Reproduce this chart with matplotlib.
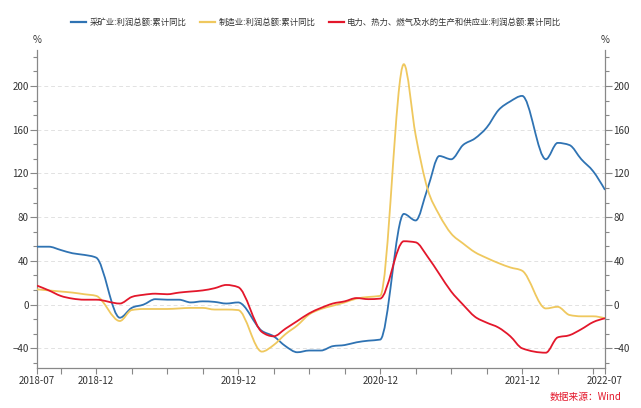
import numpy as np
import matplotlib.pyplot as plt
from matplotlib.path import Path
from matplotlib.patches import PathPatch
from matplotlib.lines import Line2D
from matplotlib.ticker import MultipleLocator, FixedLocator

plt.rcParams['font.family'] = ['Noto Sans CJK SC', 'DejaVu Sans']

# monthly cumulative data (Jan is merged into Feb, so no January points)
months = ['2018-07', '2018-08', '2018-09', '2018-10', '2018-11', '2018-12',
          '2019-02', '2019-03', '2019-04', '2019-05', '2019-06', '2019-07',
          '2019-08', '2019-09', '2019-10', '2019-11', '2019-12',
          '2020-02', '2020-03', '2020-04', '2020-05', '2020-06', '2020-07',
          '2020-08', '2020-09', '2020-10', '2020-11', '2020-12',
          '2021-02', '2021-03', '2021-04', '2021-05', '2021-06', '2021-07',
          '2021-08', '2021-09', '2021-10', '2021-11', '2021-12',
          '2022-02', '2022-03', '2022-04', '2022-05', '2022-06', '2022-07']

mining = [53, 53, 50, 47, 45.5, 43,
          -12, -3, 0, 5, 4.5, 4.5, 2, 3, 2.5, 1, 2,
          -24, -29, -38, -43.6, -42, -42, -38, -37, -34.5, -33, -32,
          83, 77, 106, 136, 133, 146, 152, 162, 178, 186, 191,
          133, 148, 146, 133, 122, 105]

manufacturing = [14, 13, 12, 11, 9.5, 8,
                 -15, -5, -4, -4, -4, -3.5, -3, -3, -4.5, -4.5, -5,
                 -43, -37, -27, -19, -9, -4, -1, 2, 5.5, 7, 8,
                 220, 155, 106, 82, 65, 56, 48, 42.7, 38, 34, 31,
                 -3.5, -2, -9.5, -10.7, -10.7, -12.5]

utilities = [17.4, 13, 8, 5.5, 4.5, 4.5,
             1, 7, 9, 10, 9.5, 11, 12, 13, 15, 18, 16,
             -25, -29, -22, -15, -8, -3, 1, 3, 6, 5, 5.5,
             58, 57, 44, 28, 12, 0, -11, -16.5, -21, -29, -40,
             -44, -30, -28, -22.5, -16, -12.5]

series_names = ['采矿业:利润总额:累计同比', '制造业:利润总额:累计同比',
                '电力、热力、燃气及水的生产和供应业:利润总额:累计同比']
colors = ['#2f73b3', '#efc85e', '#e3172b']

tick_labels = ['2018-07', '2018-12', '2019-12', '2020-12', '2021-12', '2022-07']


def month_index(s):
    y, m = s.split('-')
    return (int(y) - 2018) * 12 + int(m) - 7


def monotone_path(x, y):
    # monotone cubic (like d3 curveMonotoneX), as bezier segments
    x = np.asarray(x, float)
    y = np.asarray(y, float)
    n = len(x)
    h = np.diff(x)
    s = np.diff(y) / h
    t = np.zeros(n)
    for i in range(1, n - 1):
        p = (s[i - 1] * h[i] + s[i] * h[i - 1]) / (h[i - 1] + h[i])
        t[i] = (np.sign(s[i - 1]) + np.sign(s[i])) * min(abs(s[i - 1]), abs(s[i]), 0.5 * abs(p))
    t[0] = (3 * s[0] - t[1]) / 2
    t[-1] = (3 * s[-1] - t[-2]) / 2
    verts = [(x[0], y[0])]
    codes = [Path.MOVETO]
    for i in range(n - 1):
        dx = h[i] / 3
        verts += [(x[i] + dx, y[i] + dx * t[i]),
                  (x[i + 1] - dx, y[i + 1] - dx * t[i + 1]),
                  (x[i + 1], y[i + 1])]
        codes += [Path.CURVE4] * 3
    return Path(verts, codes)


xs = [month_index(m) for m in months]

fig = plt.figure(figsize=(6.41, 4.08), dpi=100)
ax = fig.add_axes([37 / 641, 1 - 368 / 408, 568 / 641, 318 / 408])

for vals, c in zip([mining, manufacturing, utilities], colors):
    patch = PathPatch(monotone_path(xs, vals), facecolor='none', edgecolor=c, lw=1.3, zorder=3)
    ax.add_patch(patch)

ax.set_xlim(0, 48)
ax.set_ylim(-58, 233)

# y axis on both sides
ax.yaxis.set_major_locator(MultipleLocator(40))
ax.yaxis.set_minor_locator(MultipleLocator(40 / 3))
ax.tick_params(axis='y', which='both', left=True, right=True, labelleft=True, labelright=True,
               colors='#888888', labelcolor='#333333', labelsize=7, width=0.8)
ax.tick_params(axis='y', which='major', length=5, pad=1)
ax.tick_params(axis='y', which='minor', length=3)

ax.set_xticks([month_index(t) for t in tick_labels])
ax.set_xticklabels(tick_labels)
quarters = [month_index(m) for m in months if int(m[5:]) in (3, 6, 9)] + [2]
ax.xaxis.set_minor_locator(FixedLocator(sorted(set(quarters))))
ax.tick_params(axis='x', which='both', colors='#888888', labelcolor='#333333',
               labelsize=7, length=4, width=0.8, pad=2)

ax.grid(axis='y', which='major', color='#e2e2e2', linestyle=(0, (4, 3)), lw=0.7)
ax.set_axisbelow(True)
ax.spines['top'].set_visible(False)
for sp in ['left', 'right', 'bottom']:
    ax.spines[sp].set_color('#888888')
    ax.spines[sp].set_linewidth(0.9)

fig.text(37 / 641, 1 - 40 / 408, '%', ha='center', va='center', fontsize=7, color='#333333')
fig.text(605 / 641, 1 - 40 / 408, '%', ha='center', va='center', fontsize=7, color='#333333')

handles = [Line2D([], [], color=c, lw=1.6) for c in colors]
fig.legend(handles, series_names, loc='center', bbox_to_anchor=(316 / 641, 1 - 22 / 408), ncol=3,
           frameon=False, fontsize=6.05, handlelength=1.8, handletextpad=0.4, columnspacing=1.6,
           labelcolor='#333333')

fig.text(622 / 641, 1 - 397 / 408, '数据来源：Wind', ha='right', va='center', fontsize=7, color='#e3172b')

fig.savefig('out.png', dpi=100)
